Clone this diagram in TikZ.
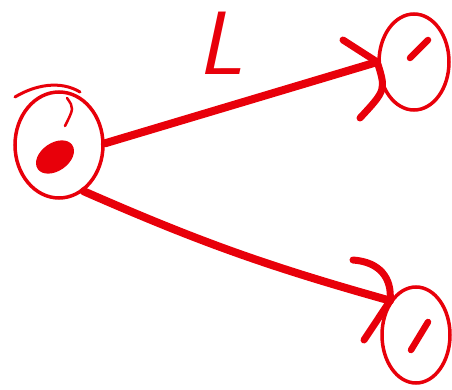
\documentclass[tikz,border=0pt]{standalone}
\usepackage{fontspec}
\usetikzlibrary{shapes.geometric}
\definecolor{ink}{RGB}{232,0,10}
\begin{document}
\begin{tikzpicture}[x=1pt,y=-1pt,
  ring/.style={ellipse, draw=ink, line width=3.5pt, inner sep=0pt},
  stroke/.style={draw=ink, line width=8pt, line cap=round, line join=round},
  thinstroke/.style={draw=ink, line width=3pt, line cap=round},
  blobdot/.style={ellipse, fill=ink, inner sep=0pt}]
\useasboundingbox (0,0) rectangle (452,390);
% circles
\node[ring, minimum width=88pt, minimum height=106pt] (lc) at (59,145) {};
\node[ring, minimum width=70pt, minimum height=96pt] (tr) at (414,62) {};
\node[ring, minimum width=68pt, minimum height=96pt] (br) at (416,335) {};
% dots
\node[blobdot, minimum width=42pt, minimum height=28pt, rotate=35] (d1) at (55,157) {};
\coordinate (t1a) at (410,58);
\coordinate (t1b) at (428,40);
\draw[stroke, line width=6.5pt] (t1a) -- (t1b);
\coordinate (b1a) at (411,350);
\coordinate (b1b) at (428,322);
\draw[stroke, line width=6.5pt] (b1a) -- (b1b);
% extra strokes on left circle
\coordinate (a1) at (15,97);
\coordinate (a2) at (80,92);
\draw[thinstroke] (a1) .. controls (35,85) and (60,80) .. (a2);
\coordinate (h1) at (67,98);
\coordinate (h2) at (65,126);
\draw[thinstroke, line width=2.5pt] (h1) .. controls (74,108) .. (h2);
% connectors
\draw[stroke] (lc.2) -- (tr.west);
\coordinate (ta) at (343,40);
\coordinate (tb) at (360,118);
\draw[stroke, line width=7pt] (ta) -- (tr.west) .. controls (386,90) .. (tb);
\draw[stroke] (lc.-62) to[bend right=4] (br.127);
\coordinate (ba) at (353,260);
\coordinate (bb) at (364,340);
\draw[stroke, line width=7pt] (ba) .. controls (380,262) and (392,278) .. (br.127) -- (bb);
% label
\node[text=ink, font=\fontsize{90}{90}\selectfont\sffamily\slshape, inner sep=0pt] (lab) at (220,43) {L};
\end{tikzpicture}
\end{document}
